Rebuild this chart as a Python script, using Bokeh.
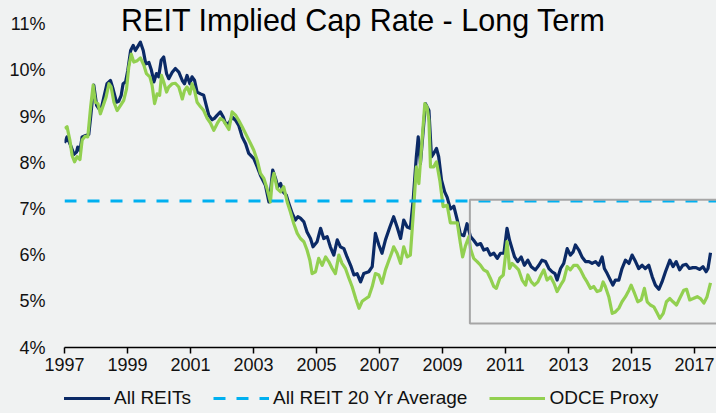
from bokeh.plotting import figure
from bokeh.models import Range1d, Legend, LegendItem, Label, FixedTicker
from bokeh.layouts import column
from bokeh.embed import file_html
from bokeh.resources import INLINE

# ---------------- data ----------------
reit_year = [1997.00, 1997.08, 1997.19, 1997.30, 1997.38, 1997.42, 1997.49, 1997.56, 1997.67, 1997.77,
             1997.83, 1997.93, 1998.02, 1998.09, 1998.16, 1998.25, 1998.35, 1998.46, 1998.54, 1998.65,
             1998.72, 1998.80, 1998.86, 1998.94, 1999.01, 1999.10, 1999.18, 1999.25, 1999.33, 1999.41,
             1999.50, 1999.58, 1999.68, 1999.76, 1999.84, 1999.92, 1999.99, 2000.07, 2000.15, 2000.24,
             2000.31, 2000.42, 2000.52, 2000.63, 2000.74, 2000.81, 2000.89, 2000.98, 2001.05, 2001.13,
             2001.21, 2001.32, 2001.42, 2001.50, 2001.58, 2001.69, 2001.76, 2001.85, 2001.95, 2002.04,
             2002.11, 2002.22, 2002.32, 2002.43, 2002.53, 2002.64, 2002.75, 2002.85, 2003.01, 2003.12,
             2003.22, 2003.38, 2003.49, 2003.54, 2003.61, 2003.70, 2003.77, 2003.86, 2003.94, 2004.04,
             2004.12, 2004.23, 2004.33, 2004.41, 2004.49, 2004.60, 2004.70, 2004.81, 2004.89, 2005.02,
             2005.13, 2005.23, 2005.34, 2005.44, 2005.55, 2005.66, 2005.76, 2005.87, 2005.97, 2006.10,
             2006.19, 2006.29, 2006.40, 2006.50, 2006.66, 2006.77, 2006.87, 2006.98, 2007.08, 2007.19,
             2007.33, 2007.45, 2007.56, 2007.67, 2007.77, 2007.88, 2007.98, 2008.07, 2008.17, 2008.23,
             2008.30, 2008.46, 2008.57, 2008.65, 2008.72, 2008.81, 2008.88, 2008.97, 2009.07, 2009.15,
             2009.25, 2009.36, 2009.47, 2009.57, 2009.68, 2009.78, 2009.89, 2009.99, 2010.10, 2010.21,
             2010.31, 2010.42, 2010.52, 2010.63, 2010.74, 2010.84, 2010.95, 2011.05, 2011.13, 2011.21,
             2011.29, 2011.39, 2011.50, 2011.60, 2011.71, 2011.82, 2011.95, 2012.06, 2012.16, 2012.27,
             2012.38, 2012.48, 2012.57, 2012.64, 2012.75, 2012.85, 2012.96, 2013.06, 2013.15, 2013.22,
             2013.33, 2013.43, 2013.54, 2013.65, 2013.75, 2013.86, 2013.96, 2014.07, 2014.14, 2014.23,
             2014.33, 2014.41, 2014.49, 2014.60, 2014.70, 2014.81, 2014.92, 2015.02, 2015.13, 2015.23,
             2015.34, 2015.44, 2015.55, 2015.66, 2015.76, 2015.87, 2015.97, 2016.08, 2016.22, 2016.32,
             2016.42, 2016.53, 2016.63, 2016.74, 2016.84, 2016.95, 2017.05, 2017.16, 2017.27, 2017.37,
             2017.43, 2017.51]
reit_rate = [8.43, 8.56, 8.38, 8.18, 8.23, 8.34, 8.26, 8.56, 8.59, 8.61,
             8.99, 9.68, 9.24, 9.17, 9.15, 9.42, 9.71, 9.78, 9.60, 9.31,
             9.33, 9.46, 9.71, 9.75, 10.00, 10.43, 10.54, 10.43, 10.52, 10.61,
             10.43, 10.14, 10.17, 10.00, 9.75, 9.93, 9.86, 10.22, 10.29, 9.93,
             9.82, 9.96, 10.04, 9.96, 9.78, 9.71, 9.89, 9.71, 9.86, 9.78,
             9.53, 9.49, 9.46, 9.24, 9.03, 8.93, 8.96, 9.03, 9.10, 8.99,
             8.85, 8.85, 8.99, 8.92, 8.81, 8.56, 8.41, 8.20, 8.09, 7.91,
             7.73, 7.51, 7.15, 7.37, 7.84, 7.66, 7.48, 7.55, 7.37, 7.30,
             7.12, 6.90, 6.76, 6.83, 6.80, 6.72, 6.50, 6.36, 6.18, 6.29,
             6.58, 6.36, 6.40, 6.18, 6.00, 6.33, 6.18, 6.14, 5.96, 5.75,
             5.57, 5.60, 5.42, 5.60, 5.64, 5.75, 6.47, 6.22, 6.04, 6.33,
             6.61, 6.83, 6.61, 6.36, 6.76, 6.61, 6.58, 7.19, 8.13, 8.56,
             7.98, 9.28, 9.13, 8.13, 8.20, 8.31, 8.13, 7.62, 7.37, 7.25,
             7.00, 7.06, 6.76, 6.45, 6.42, 6.68, 6.40, 6.32, 6.22, 6.25,
             6.11, 6.14, 6.00, 6.04, 5.93, 6.04, 6.04, 6.58, 6.32, 6.14,
             5.96, 5.86, 5.96, 5.78, 5.89, 5.75, 5.68, 5.78, 5.89, 5.86,
             5.71, 5.64, 5.60, 5.46, 5.71, 5.82, 6.14, 6.00, 6.07, 6.22,
             6.11, 5.96, 5.86, 5.86, 5.82, 5.86, 5.78, 5.96, 5.71, 5.60,
             5.46, 5.35, 5.46, 5.46, 5.71, 5.89, 5.82, 6.00, 5.86, 5.71,
             5.78, 5.71, 5.78, 5.53, 5.35, 5.26, 5.42, 5.64, 5.89, 5.75,
             5.86, 5.68, 5.78, 5.80, 5.71, 5.73, 5.73, 5.69, 5.75, 5.64,
             5.71, 6.05]

odce_year = [1997.00, 1997.08, 1997.17, 1997.24, 1997.32, 1997.40, 1997.49, 1997.56, 1997.65, 1997.74,
             1997.83, 1997.91, 1997.98, 1998.06, 1998.14, 1998.23, 1998.32, 1998.41, 1998.48, 1998.57,
             1998.67, 1998.78, 1998.88, 1998.97, 1999.04, 1999.12, 1999.20, 1999.31, 1999.41, 1999.52,
             1999.60, 1999.71, 1999.78, 1999.86, 1999.94, 2000.02, 2000.08, 2000.15, 2000.24, 2000.31,
             2000.42, 2000.52, 2000.63, 2000.74, 2000.81, 2000.89, 2000.98, 2001.05, 2001.13, 2001.21,
             2001.32, 2001.42, 2001.53, 2001.64, 2001.74, 2001.85, 2001.95, 2002.04, 2002.14, 2002.22,
             2002.32, 2002.43, 2002.53, 2002.64, 2002.75, 2002.91, 2003.01, 2003.12, 2003.22, 2003.33,
             2003.43, 2003.54, 2003.59, 2003.65, 2003.75, 2003.86, 2003.96, 2004.07, 2004.17, 2004.28,
             2004.39, 2004.49, 2004.60, 2004.70, 2004.79, 2004.86, 2004.97, 2005.07, 2005.18, 2005.29,
             2005.39, 2005.50, 2005.60, 2005.71, 2005.81, 2005.92, 2006.03, 2006.13, 2006.25, 2006.35,
             2006.45, 2006.55, 2006.66, 2006.77, 2006.87, 2006.98, 2007.08, 2007.19, 2007.30, 2007.40,
             2007.45, 2007.56, 2007.67, 2007.77, 2007.88, 2007.98, 2008.09, 2008.17, 2008.25, 2008.32,
             2008.44, 2008.51, 2008.57, 2008.62, 2008.72, 2008.81, 2008.92, 2009.02, 2009.15, 2009.25,
             2009.36, 2009.47, 2009.57, 2009.64, 2009.73, 2009.84, 2009.89, 2009.99, 2010.10, 2010.21,
             2010.31, 2010.42, 2010.52, 2010.63, 2010.71, 2010.82, 2010.93, 2011.05, 2011.13, 2011.21,
             2011.32, 2011.42, 2011.53, 2011.64, 2011.71, 2011.82, 2011.92, 2012.03, 2012.13, 2012.22,
             2012.32, 2012.43, 2012.54, 2012.64, 2012.75, 2012.85, 2012.96, 2013.06, 2013.17, 2013.28,
             2013.38, 2013.49, 2013.59, 2013.70, 2013.80, 2013.91, 2014.02, 2014.10, 2014.17, 2014.28,
             2014.39, 2014.49, 2014.60, 2014.70, 2014.81, 2014.92, 2014.99, 2015.10, 2015.20, 2015.31,
             2015.41, 2015.50, 2015.60, 2015.71, 2015.82, 2015.90, 2016.01, 2016.11, 2016.22, 2016.32,
             2016.43, 2016.53, 2016.66, 2016.75, 2016.85, 2016.96, 2017.09, 2017.19, 2017.30, 2017.40,
             2017.51]
odce_rate = [8.74, 8.78, 8.49, 8.16, 8.02, 8.13, 8.07, 8.49, 8.57, 8.56,
             9.21, 9.68, 9.31, 9.28, 9.06, 9.24, 9.42, 9.71, 9.64, 9.31,
             9.13, 9.24, 9.35, 9.60, 10.07, 10.35, 10.18, 10.21, 10.27, 10.11,
             9.93, 9.86, 9.68, 9.28, 9.49, 9.46, 9.89, 9.75, 9.53, 9.64,
             9.71, 9.72, 9.64, 9.38, 9.56, 9.64, 9.49, 9.71, 9.56, 9.31,
             9.21, 9.13, 8.96, 8.85, 8.70, 8.85, 8.96, 8.92, 8.81, 8.72,
             9.10, 9.03, 8.92, 8.78, 8.63, 8.41, 8.27, 8.05, 7.77, 7.66,
             7.44, 7.15, 7.59, 7.77, 7.44, 7.37, 7.48, 7.15, 6.94, 6.68,
             6.47, 6.36, 6.29, 6.11, 5.89, 5.60, 5.64, 5.93, 5.78, 5.96,
             5.86, 5.71, 5.60, 6.00, 5.82, 5.71, 5.50, 5.32, 5.05, 4.85,
             5.00, 5.05, 5.10, 5.32, 5.60, 5.57, 5.39, 5.68, 5.89, 6.07,
             6.18, 6.04, 5.82, 6.18, 5.96, 6.00, 7.05, 7.91, 7.55, 8.20,
             9.28, 9.21, 8.92, 7.91, 7.91, 8.02, 7.60, 7.05, 7.08, 6.70,
             6.70, 6.70, 6.25, 5.96, 6.20, 6.40, 6.14, 5.93, 5.86, 5.78,
             5.68, 5.64, 5.50, 5.32, 5.28, 5.50, 5.57, 6.29, 5.71, 5.82,
             5.75, 5.68, 5.46, 5.35, 5.57, 5.42, 5.35, 5.42, 5.57, 5.68,
             5.46, 5.53, 5.39, 5.21, 5.35, 5.46, 5.75, 5.68, 5.78, 5.78,
             5.68, 5.53, 5.42, 5.28, 5.32, 5.21, 5.24, 5.42, 5.32, 5.10,
             4.74, 4.77, 4.85, 4.99, 5.10, 5.24, 5.35, 5.17, 4.99, 5.03,
             5.28, 4.99, 4.92, 4.88, 4.74, 4.63, 4.74, 4.99, 5.06, 4.99,
             4.92, 5.06, 5.24, 5.26, 5.03, 5.06, 5.10, 5.06, 4.96, 5.10,
             5.40]

avg_20yr = 7.17
box_left, box_right, box_bottom, box_top = 2009.87, 2018.0, 4.52, 7.20

x_ticks = [1997, 1999, 2001, 2003, 2005, 2007, 2009, 2011, 2013, 2015, 2017]
y_ticks = [4, 5, 6, 7, 8, 9, 10, 11]

title_text = "REIT Implied Cap Rate - Long Term"
series_names = ["All REITs", "All REIT 20 Yr Average", "ODCE Proxy"]

# ---------------- style ----------------
BG = "#F0F2F2"
NAVY = "#0B2A66"
GREEN = "#92D050"
BLUE = "#00B0F0"
FONT = "Liberation Sans"

X0, X1 = 1997.0, 2017.7
Y0, Y1 = 4.0, 11.512

MAIN_H, LEG_H = 378, 35

p = figure(width=716, height=MAIN_H, output_backend="svg", toolbar_location=None,
           x_range=Range1d(X0, X1), y_range=Range1d(Y0, Y1),
           min_border_left=64, min_border_right=0, min_border_top=0, min_border_bottom=31,
           background_fill_color=BG, border_fill_color=BG, outline_line_color=None)
p.xgrid.visible = False
p.ygrid.visible = False

line_styles = [dict(line_color=NAVY, line_width=3.2),
               dict(line_color=BLUE, line_width=3, line_dash="12 11"),
               dict(line_color=GREEN, line_width=3.2)]

p.line(reit_year, reit_rate, line_join="round", **line_styles[0])
p.line(odce_year, odce_rate, line_join="round", **line_styles[2])
p.line([X0, X1], [avg_20yr, avg_20yr], **line_styles[1])
p.quad(left=[box_left], right=[box_right], bottom=[box_bottom], top=[box_top],
       fill_alpha=0, line_color="#A6A6A6", line_width=2)

# axes
xa = p.xaxis[0]
xa.ticker = FixedTicker(ticks=x_ticks)
xa.major_label_overrides = {t: str(t) for t in x_ticks}
xa.axis_line_color = "#000000"
xa.axis_line_width = 1.5
xa.major_tick_line_color = "#000000"
xa.major_tick_line_width = 1.5
xa.major_tick_in = 0
xa.major_tick_out = 6
xa.minor_tick_line_color = None
xa.major_label_standoff = 4
xa.major_label_text_font = FONT
xa.major_label_text_font_size = "18px"
xa.major_label_text_color = "#111111"

ya = p.yaxis[0]
ya.ticker = FixedTicker(ticks=y_ticks)
ya.major_label_overrides = {t: f"{t}%" for t in y_ticks}
ya.axis_line_color = None
ya.major_tick_line_color = None
ya.minor_tick_line_color = None
ya.major_tick_in = 0
ya.major_tick_out = 0
ya.major_label_standoff = 19
ya.major_label_text_font = FONT
ya.major_label_text_font_size = "18px"
ya.major_label_text_color = "#111111"

# title
p.add_layout(Label(x=299, y=328, x_units="screen", y_units="screen", text=title_text,
                   text_font=FONT, text_font_size="30.5px", text_align="center",
                   text_baseline="middle", text_color="#000000"))

# legend strip (separate figure, legend items mirror the series styles)
lg = figure(width=716, height=LEG_H, output_backend="svg", toolbar_location=None,
            x_range=Range1d(0, 1), y_range=Range1d(0, 1),
            x_axis_location=None, y_axis_location=None,
            min_border_left=0, min_border_right=0, min_border_top=0, min_border_bottom=0,
            background_fill_color=BG, border_fill_color=BG, outline_line_color=None)
lg.xgrid.visible = False
lg.ygrid.visible = False
items = []
for name, style in zip(series_names, line_styles):
    r = lg.line(x=[-5, -4], y=[-5, -5], **style)
    items.append(LegendItem(label=name, renderers=[r]))
legend = Legend(items=items, orientation="horizontal", location=(-10, 4),
                glyph_width=56, glyph_height=20, label_height=20, label_standoff=4, spacing=22,
                padding=0, margin=0, border_line_color=None, background_fill_alpha=0,
                label_text_font=FONT, label_text_font_size="19px", label_text_color="#111111")
lg.add_layout(legend, "center")

layout = column(p, lg, spacing=0, styles={"background-color": BG})
open("out.html", "w").write(file_html(layout, INLINE))
